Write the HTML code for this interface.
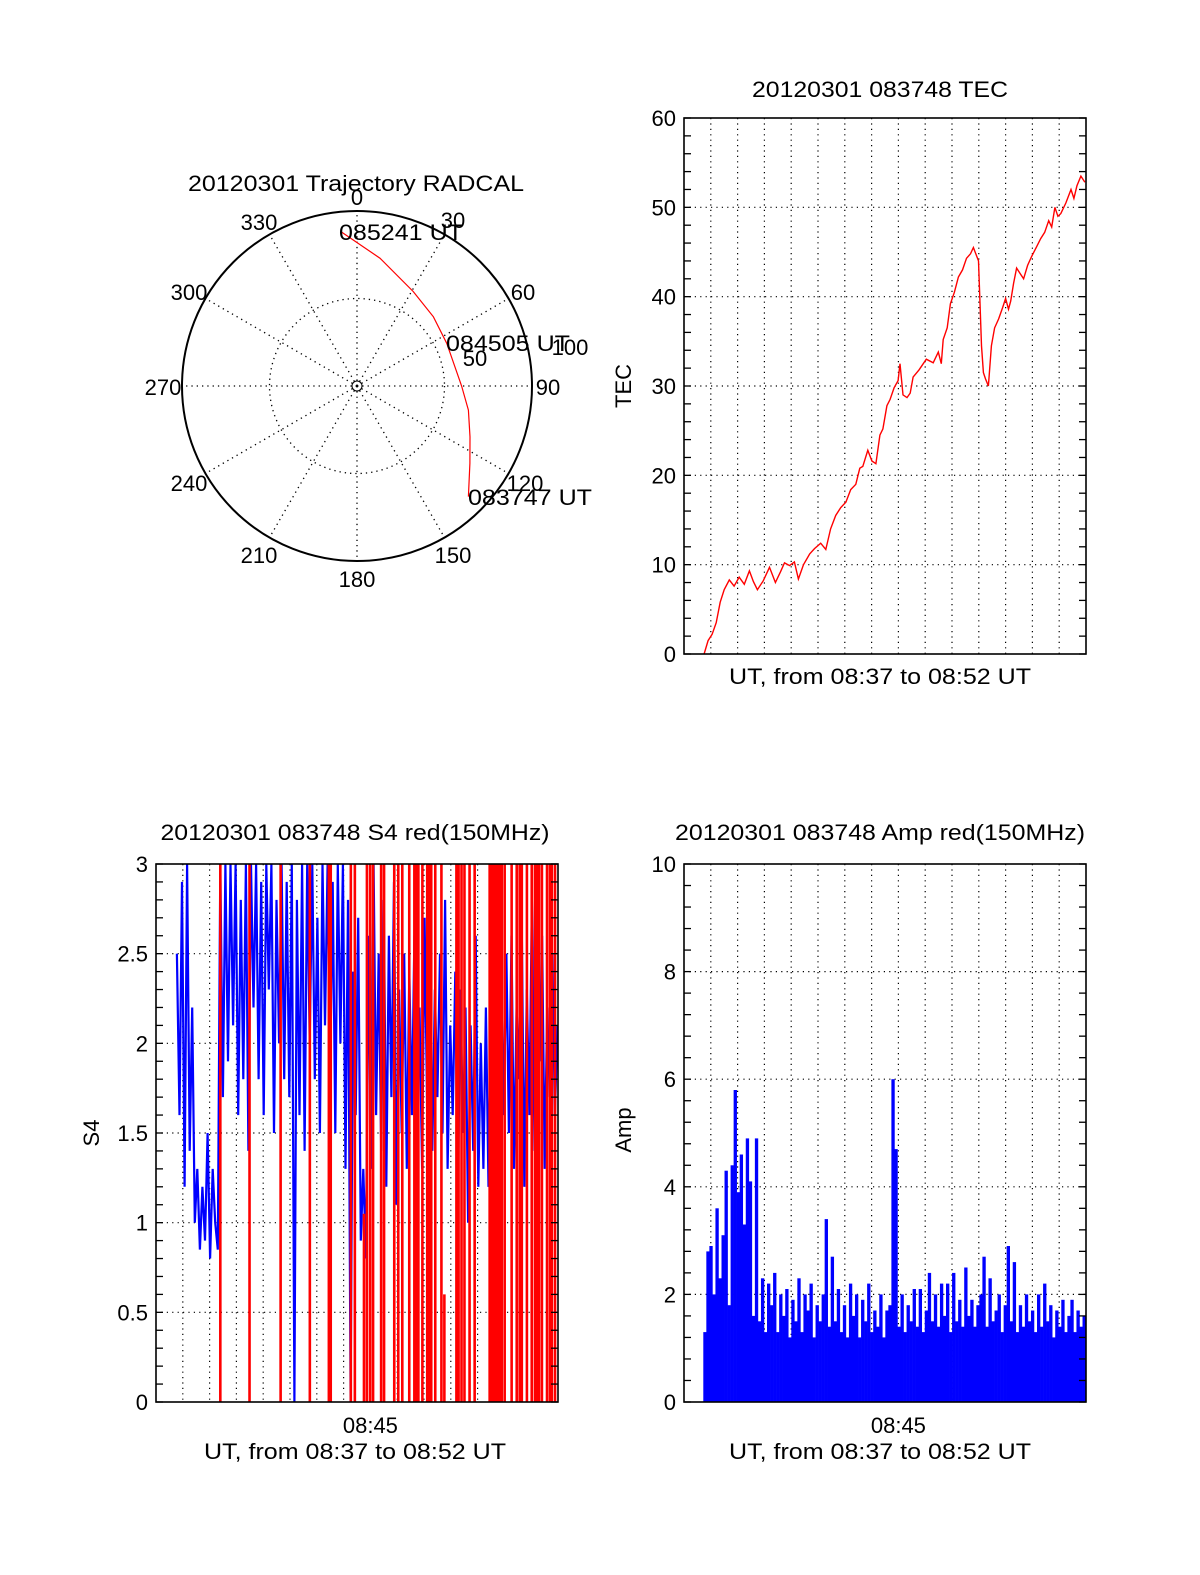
<!DOCTYPE html>
<html><head><meta charset="utf-8"><style>
html,body{margin:0;padding:0;background:#fff;}
svg{display:block;font-family:"Liberation Sans",Arial,sans-serif;}
</style></head><body>
<svg id="fig" width="1200" height="1575" viewBox="0 0 1200 1575" xmlns="http://www.w3.org/2000/svg">
<rect x="0" y="0" width="1200" height="1575" fill="#fff"/>
</svg>
<script>
// ---------- Polar trajectory data ----------
const polarAz = [134.8,124.4,114.2,102.2,90,64.5,47.8,30.8,10.2,354.1];
const polarZen = [89.7,78.2,70.8,65.1,59.8,56.8,58.9,62.8,74.2,88.6];
const polarAzLabels = ["0","30","60","90","120","150","180","210","240","270","300","330"];
// ---------- TEC data (minutes after 08:37) ----------
const tecTime = [0.75,0.9,1.05,1.2,1.35,1.5,1.69,1.87,2.06,2.25,2.44,2.59,2.74,2.96,3.19,3.41,3.6,3.75,3.94,4.12,4.27,4.46,4.69,4.87,5.1,5.29,5.47,5.66,5.85,6.04,6.22,6.41,6.56,6.67,6.86,7.01,7.16,7.31,7.42,7.57,7.69,7.84,7.99,8.06,8.17,8.32,8.44,8.55,8.77,9.04,9.3,9.49,9.6,9.67,9.82,9.94,10.09,10.24,10.39,10.54,10.69,10.8,10.99,11.06,11.1,11.17,11.25,11.36,11.47,11.59,11.74,11.89,12.0,12.11,12.19,12.3,12.41,12.56,12.67,12.82,12.97,13.16,13.31,13.46,13.61,13.72,13.84,13.95,14.06,14.25,14.44,14.55,14.66,14.81,14.96];
const tecValue = [0,1.5,2.2,3.5,5.8,7.2,8.3,7.6,8.6,7.8,9.3,8.1,7.2,8.2,9.7,8.0,9.2,10.2,9.9,10.3,8.4,10.0,11.2,11.8,12.4,11.7,14.0,15.5,16.4,17.0,18.4,19.0,20.8,21.0,22.8,21.6,21.3,24.5,25.2,27.8,28.5,29.8,30.6,32.5,29.0,28.7,29.2,31.0,31.8,33.0,32.6,33.8,32.5,35.2,36.5,39.2,40.5,42.2,43.0,44.3,44.8,45.5,44.0,38.0,34.5,31.5,30.8,30.0,34.5,36.5,37.5,38.8,39.8,38.6,39.5,41.5,43.2,42.5,42.0,43.5,44.5,45.6,46.5,47.2,48.5,47.8,50.0,49.0,49.3,50.5,52.0,51.0,52.4,53.5,52.8];
const tecTicks = [0,10,20,30,40,50,60];
// ---------- S4 data ----------
const s4Start = 0.78, s4Step = 0.0953;
const s4Blue = [2.5,1.6,2.9,1.2,3.0,1.4,2.2,1.0,1.3,0.85,
1.2,0.9,1.5,0.8,1.3,1.0,0.85,3.0,1.7,3.0,
1.9,3.0,2.1,3.0,1.6,2.8,1.8,3.0,1.4,3.0,
2.2,3.0,1.8,2.9,1.6,3.0,2.3,3.0,1.5,2.8,
2.0,3.0,1.8,2.9,1.7,3.0,0.0,2.8,1.6,3.0,
1.4,3.0,2.0,3.0,1.8,2.7,1.5,3.0,2.1,3.0,
1.8,2.9,1.5,3.0,2.0,3.0,1.3,2.8,0.0,2.4,
1.6,2.7,0.9,1.3,0.8,2.6,1.3,3.0,1.6,2.5,
1.4,2.8,1.2,2.6,1.7,2.9,1.1,2.3,1.5,2.5,
1.3,2.4,1.6,2.6,1.4,2.2,1.3,2.7,1.6,2.2,
1.4,2.3,1.7,2.5,1.5,2.8,1.3,2.1,1.6,2.4,
1.1,2.3,1.5,2.2,1.0,2.1,1.4,2.6,1.2,2.0,
1.3,2.2,1.2,2.4,1.5,2.1,1.1,2.3,1.6,2.5,
1.5,2.6,1.3,2.2,1.8,2.7,1.2,2.3,1.6,2.8,
1.4,2.5,1.9,2.6,1.3,2.2,1.7,2.5,1.6,2.1];
const s4RedTime = [2.40,3.49,4.65,5.74,6.45,6.52,7.27,7.42,7.76,7.87,7.99,8.10,8.40,8.51,8.89,9.04,9.19,9.45,9.64,9.71,9.79,9.94,10.12,10.20,10.27,10.42,10.65,10.76,11.21,11.29,11.40,11.51,11.70,11.89,12.45,12.52,12.60,12.67,12.75,12.82,12.90,13.01,13.27,13.46,13.57,13.65,13.84,14.02,14.14,14.21,14.29,14.40,14.59,14.70,14.77,14.89];
const s4RedTop = [3,3,3,3,3,3,3,3,1.05,3,3,3,3,3,3,3,3,3,3,3,3,3,3,3,3,3,3,0.6,3,3,3,3,3,3,3,3,3,3,3,3,3,3,3,3,3,3,3,3,3,3,3,3,3,3,3,3];
const s4Ticks = [0,0.5,1,1.5,2,2.5,3];
const s4TickLabels = ["0","0.5","1","1.5","2","2.5","3"];
// ---------- Amp data ----------
const ampStart = 0.72, ampStep = 0.1132;
const ampValue = [1.3,2.8,2.9,2.0,3.6,2.3,3.1,4.3,1.8,4.4,
5.8,3.9,4.6,3.3,4.9,4.1,1.6,4.9,1.5,2.3,
1.3,2.2,1.8,2.4,1.3,2.0,1.6,2.1,1.2,1.9,
1.5,2.3,1.3,2.0,1.7,2.2,1.2,1.8,1.5,2.0,
3.4,1.4,2.7,1.5,2.1,1.3,1.8,1.2,2.2,1.6,
2.0,1.2,1.9,1.5,2.2,1.3,1.7,1.4,2.0,1.2,
1.7,1.8,6.0,4.7,1.4,2.0,1.3,1.8,1.5,2.1,
1.4,2.1,1.3,1.7,2.4,1.5,2.0,1.4,2.2,1.6,
2.2,1.3,2.4,1.5,1.9,1.4,2.5,1.6,1.9,1.4,
1.8,2.0,2.7,1.4,2.3,1.5,1.7,2.0,1.3,1.8,
2.9,1.5,2.6,1.3,1.8,1.4,2.0,1.5,1.7,1.3,
2.0,1.4,2.2,1.5,1.8,1.2,1.7,1.4,1.9,1.3,
1.6,1.9,1.3,1.7,1.4,1.6,1.5];
const ampTicks = [0,2,4,6,8,10];

const NS = "http://www.w3.org/2000/svg";
const svg = document.getElementById('fig');
function mk(tag, attrs, parent) {
  const e = document.createElementNS(NS, tag);
  for (const k in attrs) e.setAttribute(k, attrs[k]);
  (parent || svg).appendChild(e);
  return e;
}
function txt(str, x, y, size, anchor, parent, len) {
  const t = mk('text', {x: x, y: y, 'font-size': size, 'text-anchor': anchor || 'middle', fill: '#000'}, parent);
  if (len) { t.setAttribute('textLength', len); t.setAttribute('lengthAdjust', 'spacingAndGlyphs'); }
  t.textContent = str;
  return t;
}

function panel(name, x0, x1, y0, y1, ymin, ymax, ticks, tickLabels, minor) {
  const g = mk('g', {});
  
  
  const xs = t => x0 + (t / 15) * (x1 - x0);
  const ys = v => y1 - (v - ymin) / (ymax - ymin) * (y1 - y0);
  const grid = mk('g', {stroke: '#000', 'stroke-width': 1.2, 'stroke-dasharray': '1.2,4.2'}, g);
  
  
  for (let m = 1; m < 15; m++) mk('line', {x1: xs(m), x2: xs(m), y1: y0, y2: y1}, grid);
  for (let i = 1; i < ticks.length - 1; i++) mk('line', {x1: x0, x2: x1, y1: ys(ticks[i]), y2: ys(ticks[i])}, grid);
  const labels = mk('g', {}, g);
  
  
  ticks.forEach((v, i) => txt(tickLabels[i], x0 - 8, ys(v) + 8, 22, 'end', labels));
  const clip = mk('clipPath', {id: name + 'clip'}, g);
  mk('rect', {x: x0, y: y0, width: x1 - x0, height: y1 - y0}, clip);
  return {g, xs, ys, x0, x1, y0, y1, minor, ymin, ymax};
}
function frame(p, name) {
  const tk = mk('g', {stroke: '#000', 'stroke-width': 1.3}, p.g);
  
  
  for (let v = p.ymin; v <= p.ymax + 1e-9; v += p.minor) {
    const y = p.ys(v);
    mk('line', {x1: p.x0, x2: p.x0 + 7, y1: y, y2: y}, tk);
    mk('line', {x1: p.x1 - 7, x2: p.x1, y1: y, y2: y}, tk);
  }
  const r = mk('rect', {x: p.x0, y: p.y0, width: p.x1 - p.x0, height: p.y1 - p.y0, fill: 'none', stroke: '#000', 'stroke-width': 1.6}, p.g);
  
  
}

// ---------- Polar ----------
(function () {
  const cx = 357, cy = 386, R = 175, k = R / 100;
  const g = mk('g', {});
  
  
  const grid = mk('g', {stroke: '#000', 'stroke-width': 1.3, 'stroke-dasharray': '1.3,4', fill: 'none'}, g);
  
  
  for (let a = 0; a < 360; a += 30) {
    const r = a * Math.PI / 180;
    mk('line', {x1: cx, y1: cy, x2: cx + R * Math.sin(r), y2: cy - R * Math.cos(r)}, grid);
  }
  mk('circle', {cx: cx, cy: cy, r: 50 * k}, grid);
  mk('circle', {cx: cx, cy: cy, r: 5, stroke: '#000', 'stroke-width': 1, fill: 'none'}, g);
  const c = mk('circle', {cx: cx, cy: cy, r: R, fill: 'none', stroke: '#000', 'stroke-width': 2}, g);
  
  
  const lp = [[357,205],[453,228],[523,300],[548,395],[525,491],[453,563],[357,587],[259,563],[189,491],[163,395],[189,300],[259,230]];
  const al = mk('g', {}, g);
  
  
  polarAzLabels.forEach((s, i) => txt(s, lp[i][0], lp[i][1], 22, 'middle', al));
  const pts = polarAz.map((a, i) => {
    const r = a * Math.PI / 180;
    return (cx + polarZen[i] * k * Math.sin(r)).toFixed(1) + ',' + (cy - polarZen[i] * k * Math.cos(r)).toFixed(1);
  }).join(' ');
  const tr = mk('polyline', {points: pts, fill: 'none', stroke: '#f00', 'stroke-width': 1.2}, g);
  
  
  txt('50', 475, 366, 22, 'middle', g);
  txt('100', 570, 355, 22, 'middle', g);
  txt('085241 UT', 339, 240, 22, 'start', g, 124);
  txt('084505 UT', 446, 351, 22, 'start', g, 124);
  txt('083747 UT', 468, 505, 22, 'start', g, 124);
  const t = txt('20120301 Trajectory RADCAL', 356, 191, 22, 'middle', g, 336);
  
  
})();

// ---------- TEC ----------
(function () {
  const p = panel('tec', 684, 1086, 118, 654, 0, 60, tecTicks, tecTicks.map(String), 2);
  const pts = tecTime.map((t, i) => p.xs(t).toFixed(1) + ',' + p.ys(tecValue[i]).toFixed(1)).join(' ');
  const l = mk('polyline', {points: pts, fill: 'none', stroke: '#f00', 'stroke-width': 1.4}, p.g);
  
  
  frame(p, 'tec');
  const t = txt('20120301 083748 TEC', 880, 97, 22, 'middle', p.g, 256);
  
  
  const xl = txt('UT, from 08:37 to 08:52 UT', 880, 684, 22, 'middle', p.g, 302);
  
  
  const yl = txt('TEC', 0, 0, 22, 'middle', p.g);
  yl.setAttribute('transform', 'translate(631,386) rotate(-90)');
  
  
})();

// ---------- S4 ----------
(function () {
  const p = panel('s4', 156, 558, 864, 1402, 0, 3, s4Ticks, s4TickLabels, 0.1);
  const pts = s4Blue.map((v, i) => p.xs(s4Start + i * s4Step).toFixed(1) + ',' + p.ys(v).toFixed(1)).join(' ');
  const l = mk('polyline', {points: pts, fill: 'none', stroke: '#00f', 'stroke-width': 2.2, 'clip-path': 'url(#s4clip)'}, p.g);
  
  
  const rg = mk('g', {stroke: '#f00', 'stroke-width': 2.6}, p.g);
  
  
  s4RedTime.forEach((t, i) => {
    const ln = mk('line', {x1: p.xs(t), x2: p.xs(t), y1: p.ys(0), y2: p.ys(s4RedTop[i])}, rg);
    
    
  });
  frame(p, 's4');
  const t = txt('20120301 083748 S4 red(150MHz)', 355, 840, 22, 'middle', p.g, 389);
  
  
  const x1 = txt('08:45', p.xs(8), 1433, 22, 'middle', p.g);
  
  
  const xl = txt('UT, from 08:37 to 08:52 UT', 355, 1459, 22, 'middle', p.g, 302);
  
  
  const yl = txt('S4', 0, 0, 22, 'middle', p.g);
  yl.setAttribute('transform', 'translate(99,1133) rotate(-90)');
  
  
})();

// ---------- Amp ----------
(function () {
  const p = panel('amp', 684, 1086, 864, 1402, 0, 10, ampTicks, ampTicks.map(String), 0.4);
  const bg = mk('g', {fill: '#00f', 'clip-path': 'url(#ampclip)'}, p.g);
  
  
  const w = p.xs(ampStep) - p.xs(0);
  ampValue.forEach((v, i) => {
    const x = p.xs(ampStart + i * ampStep);
    const r = mk('rect', {x: x.toFixed(2), y: p.ys(v).toFixed(1), width: (w + 0.3).toFixed(2), height: (p.ys(0) - p.ys(v)).toFixed(1)}, bg);
    
    
  });
  frame(p, 'amp');
  const t = txt('20120301 083748 Amp red(150MHz)', 880, 840, 22, 'middle', p.g, 410);
  
  
  const x1 = txt('08:45', p.xs(8), 1433, 22, 'middle', p.g);
  
  
  const xl = txt('UT, from 08:37 to 08:52 UT', 880, 1459, 22, 'middle', p.g, 302);
  
  
  const yl = txt('Amp', 0, 0, 22, 'middle', p.g);
  yl.setAttribute('transform', 'translate(631,1130) rotate(-90)');
  
  
})();
</script>
</body></html>
